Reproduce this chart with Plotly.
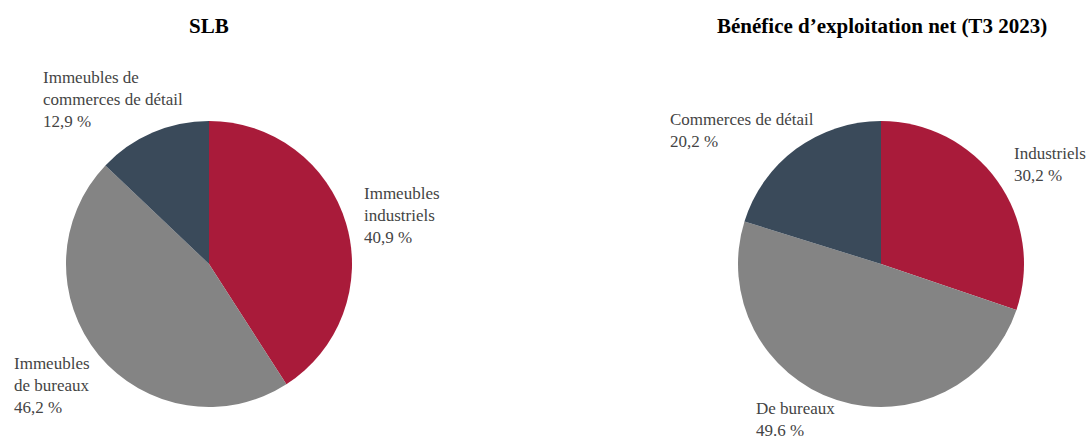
import plotly.graph_objects as go

W, H = 1089, 442

# Data
left_title = "SLB"
left_labels = ["Immeubles industriels", "Immeubles de bureaux", "Immeubles de commerces de détail"]
left_values = [40.9, 46.2, 12.9]
left_text = ["Immeubles<br>industriels<br>40,9 %",
             "Immeubles<br>de bureaux<br>46,2 %",
             "Immeubles de<br>commerces de détail<br>12,9 %"]

right_title = "Bénéfice d’exploitation net (T3 2023)"
right_labels = ["Industriels", "De bureaux", "Commerces de détail"]
right_values = [30.2, 49.6, 20.2]
right_text = ["Industriels<br>30,2 %",
              "De bureaux<br>49.6 %",
              "Commerces de détail<br>20,2 %"]

colors = ["#A91B3A", "#848484", "#3A4A5A"]

FONT = "Liberation Serif"
TXT = "#444444"

def px(x):
    return x / W

def py(y):
    return 1 - y / H

fig = go.Figure()

R = 143
for cx, labels, values in [(209, left_labels, left_values), (881, right_labels, right_values)]:
    fig.add_trace(go.Pie(
        labels=labels, values=values, sort=False, direction="clockwise", rotation=0,
        marker=dict(colors=colors, line=dict(width=0)),
        textinfo="none", hoverinfo="label+percent", showlegend=False,
        domain=dict(x=[px(cx - R), px(cx + R)], y=[py(264 + R), py(264 - R)]),
    ))

# label positions (pixel left/top)
left_pos = [(362, 182), (12, 352), (41, 66)]
right_pos = [(1012, 142), (754, 397), (668, 108)]

annotations = []
for texts, pos in [(left_text, left_pos), (right_text, right_pos)]:
    for t, (x, y) in zip(texts, pos):
        annotations.append(dict(
            text=t, x=px(x), y=py(y), xref="paper", yref="paper",
            xanchor="left", yanchor="top", align="left", showarrow=False,
            font=dict(family=FONT, size=17, color=TXT),
        ))

for t, cx in [(left_title, 209), (right_title, 882)]:
    annotations.append(dict(
        text="<b>%s</b>" % t, x=px(cx), y=py(26), xref="paper", yref="paper",
        xanchor="center", yanchor="middle", showarrow=False,
        font=dict(family=FONT, size=21, color="#000000"),
    ))

fig.update_layout(
    width=W, height=H, margin=dict(l=0, r=0, t=0, b=0),
    paper_bgcolor="white", plot_bgcolor="white",
    annotations=annotations,
)

fig.write_html("out.html")
